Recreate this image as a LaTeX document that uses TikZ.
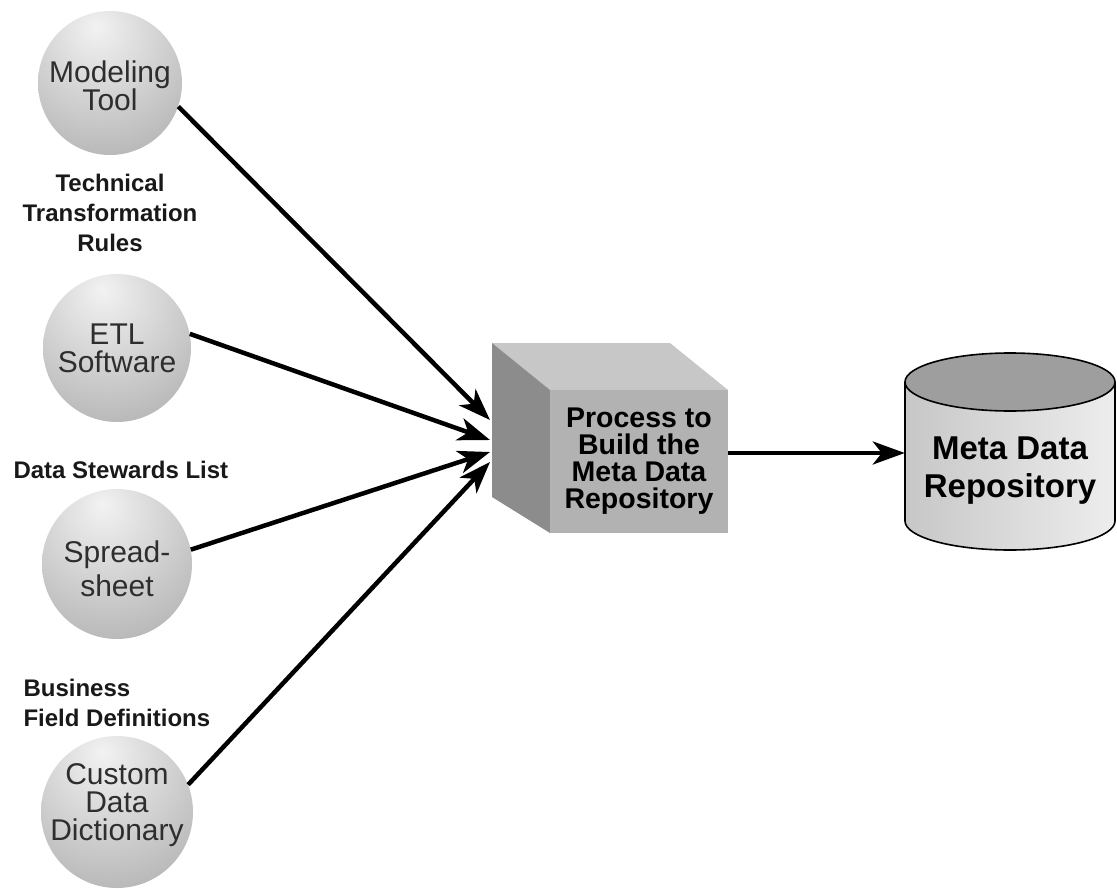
\documentclass[tikz,border=0pt]{standalone}
\usepackage{fontspec}
\setmainfont{Liberation Sans}
\usetikzlibrary{arrows.meta}

% soft gray ball, lit from the upper left
\pgfdeclareradialshading{sphereshade}{\pgfpoint{-5bp}{20bp}}{%
  color(0bp)=(white!95!black);
  color(22bp)=(white!82!black);
  color(52bp)=(white!64!black);
  color(70bp)=(white!55!black);
  color(100bp)=(white!50!black)}

\tikzset{
  sphere/.style={circle, minimum size=#1, inner sep=0pt, shading=sphereshade,
    label={[font=\fontsize{30}{28}\selectfont, text=black!82, align=center]center:}},
  spheretext/.style={font=\fontsize{30}{28}\selectfont, text=black!82, align=center},
  note/.style={font=\bfseries\fontsize{24}{30}\selectfont, text=black!90},
  feed/.style={line width=4.5pt, -{Stealth[length=32pt, width=23pt, inset=9pt]}},
}

\begin{document}
\begin{tikzpicture}[x=1pt, y=1pt]
\useasboundingbox (0,0) rectangle (1117,-889);

% ---- source spheres ----
\node[sphere=144] (mt) at (110,-83) {};
\node[spheretext] at (110,-86) {Modeling\\Tool};

\node[sphere=148] (etl) at (117,-348) {};
\node[spheretext] at (117,-348) {ETL\\Software};

\node[sphere=150] (ss) at (117,-564) {};
\node[spheretext, font=\fontsize{30}{34}\selectfont] at (117,-569) {Spread-\\sheet};

\node[sphere=152] (cdd) at (117,-812) {};
\node[spheretext] at (117,-805) {Custom\\Data\\Dictionary};

% ---- notes beside the sources ----
\node[note, align=center] (n1) at (110,-213) {Technical\\Transformation\\Rules};
\node[note, anchor=west] (n2) at (10,-470) {Data Stewards List};
\node[note, align=left, anchor=west] (n3) at (20,-703) {Business\\Field Definitions};

% ---- process cube ----
\fill[black!22] (492,-343) -- (670,-343) -- (728,-390) -- (550,-390) -- cycle;
\fill[black!45] (492,-343) -- (550,-390) -- (550,-533) -- (492,-497) -- cycle;
\node[fill=black!30, minimum width=178pt, minimum height=143pt, inner sep=0pt,
      font=\bfseries\fontsize{28.5}{27}\selectfont, align=center] (proc) at (639,-461.5)
      {Process to\\Build the\\Meta Data\\Repository};

% ---- repository cylinder ----
\fill[left color=black!22, right color=black!7]
  (905,-382) -- (905,-521) arc[start angle=180, end angle=360, x radius=105, y radius=29]
  -- (1115,-382) -- cycle;
\draw[line width=1.6pt] (905,-382) -- (905,-521)
  arc[start angle=180, end angle=360, x radius=105, y radius=29] -- (1115,-382);
\draw[line width=1.6pt, fill=black!38] (1010,-382) ellipse[x radius=105, y radius=29];
\node[minimum width=210pt, inner sep=0pt, font=\bfseries\fontsize{33}{38}\selectfont,
      align=center] (repo) at (1010,-471) {Meta Data\\Repository};

% ---- arrow ends on the cube's side ----
\coordinate (in1) at (490,-420);
\coordinate (in2) at (490,-440);
\coordinate (in3) at (490,-452);
\coordinate (in4) at (490,-462);

% ---- connectors ----
\draw[feed] (mt.-19) -- (in1);
\draw[feed] (etl.11) -- (in2);
\draw[feed] (ss.11) -- (in3);
\draw[feed] (cdd.21) -- (in4);
\draw[feed] ([yshift=8.5pt]proc.east) -- ([yshift=18pt]repo.west);
\end{tikzpicture}
\end{document}
